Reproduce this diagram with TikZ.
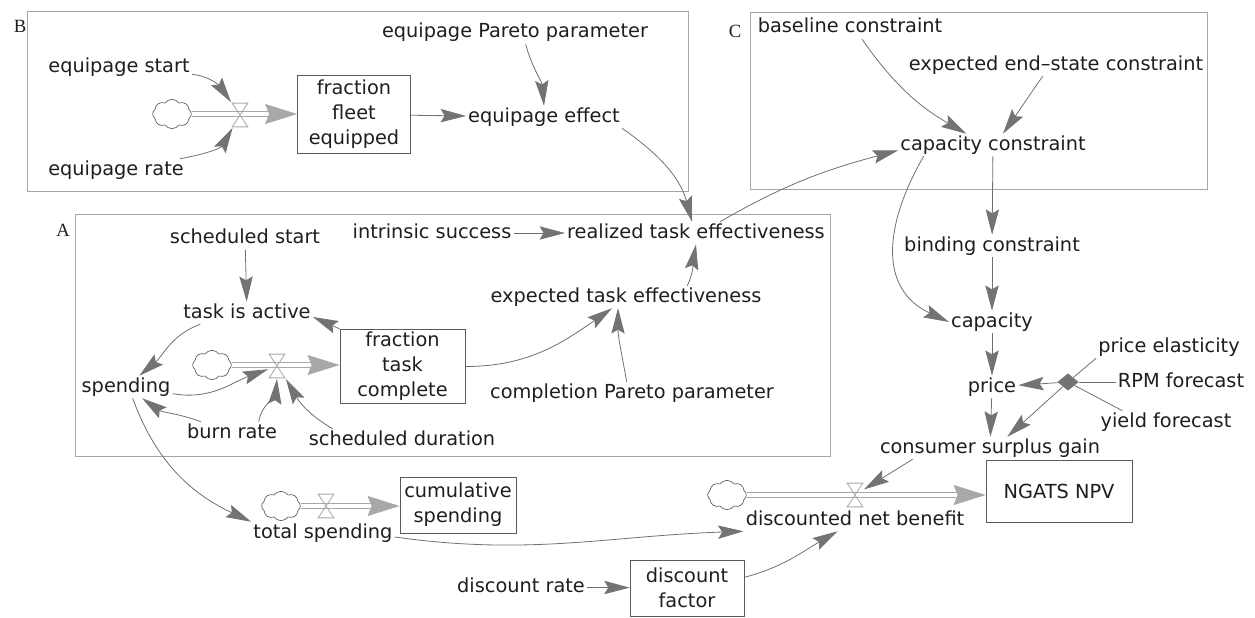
\documentclass[tikz,border=0pt]{standalone}
\usepackage{fontspec}
\setmainfont{DejaVu Sans}
\newfontfamily\groupfont{Liberation Serif}
\usetikzlibrary{arrows.meta, shapes.geometric, shapes.symbols}

\definecolor{linkgray}{HTML}{707070}
\definecolor{headgray}{HTML}{737373}
\definecolor{pipegray}{HTML}{A8A8A8}
\definecolor{boxgray}{HTML}{5A5A5A}
\definecolor{framegray}{HTML}{A6A6A6}
\definecolor{textgray}{HTML}{1E1E1E}

\newcommand{\varfont}{\fontsize{14.5}{18.75}\selectfont}

\begin{document}
\begin{tikzpicture}[
	x=0.75pt, y=0.75pt,
	var/.style={font=\varfont, text=textgray, inner sep=1.5pt, text height=10.5pt, text depth=3pt},
	level/.style={draw=boxgray, line width=0.6pt, font=\varfont, text=textgray, align=center, inner sep=2pt},
	frame/.style={draw=framegray, line width=0.7pt},
	grouplabel/.style={font=\groupfont\fontsize{14}{16}\selectfont, text=textgray},
	link/.style={draw=linkgray, line width=0.6pt, -{Stealth[length=19pt, width=10pt, inset=3pt, color=headgray]}},
	plainlink/.style={draw=linkgray, line width=0.6pt},
	pipe/.style={draw=pipegray, line width=0.6pt, double distance=2.6pt, -{Stealth[length=24pt, width=15pt, inset=3pt, color=pipegray]}},
	source/.style={cloud, cloud puffs=8, cloud puff arc=110, cloud ignores aspect, draw=boxgray, line width=0.5pt, inner sep=0pt, minimum width=29pt, minimum height=22pt},
	valve/.style={inner sep=0pt, minimum width=13pt, minimum height=19pt,
		path picture={\draw[pipegray, line width=0.6pt]
			([shift={(0.6pt,-0.6pt)}]path picture bounding box.north west) --
			([shift={(-0.6pt,-0.6pt)}]path picture bounding box.north east) --
			([shift={(0.6pt,0.6pt)}]path picture bounding box.south west) --
			([shift={(-0.6pt,0.6pt)}]path picture bounding box.south east) -- cycle;}},
	mult/.style={diamond, fill=headgray, inner sep=0pt, minimum width=16pt, minimum height=13pt}
	]
	
	\useasboundingbox (0,0) rectangle (1255,-617);
	
	% ======================
	% Rahmen der Teilmodelle
	% ======================
	\draw[frame] (27,-11) rectangle (688,-191);
	\node[grouplabel] (labB) at (20,-26) {B};
	\draw[frame] (750,-12) rectangle (1207,-189);
	\node[grouplabel] (labC) at (735,-31) {C};
	\draw[frame] (75,-214) rectangle (830,-456);
	\node[grouplabel] (labA) at (63,-230) {A};
	
	% ======================
	% B) Ausruestung
	% ======================
	\node[var] (eqStart) at (119,-68) {equipage start};
	\node[var] (eqRate) at (116,-170) {equipage rate};
	\node[source] (srcB) at (172,-114) {};
	\node[level, minimum width=84.75pt, minimum height=59pt] (fleet) at (354,-114.5) {fraction\\fleet\\equipped};
	\node[var] (eqEffect) at (544,-117) {equipage effect};
	\node[var] (eqPareto) at (515,-33) {equipage Pareto parameter};
	
	% ======================
	% C) Kapazitaet
	% ======================
	\node[var] (baseCon) at (850,-28) {baseline constraint};
	\node[var] (endCon) at (1056,-65) {expected end--state constraint};
	\node[var] (capCon) at (993,-145) {capacity constraint};
	\node[var] (bindCon) at (992,-246) {binding constraint};
	\node[var] (capacity) at (992,-322) {capacity};
	\node[var] (price) at (992,-387) {price};
	\node[mult] (lookup) at (1068,-382) {};
	\node[var] (priceEl) at (1169,-347) {price elasticity};
	\node[var] (rpm) at (1181,-382) {RPM forecast};
	\node[var] (yield) at (1166,-422) {yield forecast};
	\node[var] (csg) at (990,-448) {consumer surplus gain};
	\node[level, minimum width=109.5pt, minimum height=47pt] (npv) at (1059,-491.5) {NGATS NPV};
	\node[source] (srcD) at (727,-495) {};
	\node[var] (dnb) at (855,-520) {discounted net benefit};
	\node[level, minimum width=85.5pt, minimum height=42pt] (dfac) at (687,-588) {discount\\factor};
	\node[var] (drate) at (521,-587) {discount rate};
	
	% Ausgaben
	\node[var] (totSpend) at (323,-533) {total spending};
	\node[source] (srcT) at (281,-506) {};
	\node[level, minimum width=87pt, minimum height=42pt] (cumSpend) at (458,-505) {cumulative\\spending};
	
	% ======================
	% A) Aufgabe
	% ======================
	\node[var] (intr) at (432,-233) {intrinsic success};
	\node[var] (realEff) at (696,-233) {realized task effectiveness};
	\node[var] (expEff) at (626,-297) {expected task effectiveness};
	\node[var] (compPareto) at (632,-393) {completion Pareto parameter};
	\node[var] (schedStart) at (245,-238) {scheduled start};
	\node[var] (active) at (247,-313) {task is active};
	\node[level, minimum width=93.75pt, minimum height=56pt] (task) at (402.5,-366.5) {fraction\\task\\complete};
	\node[source] (srcA) at (212,-365) {};
	\node[var] (spending) at (126,-387) {spending};
	\node[var] (burn) at (232,-433) {burn rate};
	\node[var] (schedDur) at (402,-440) {scheduled duration};
	
	% Fluesse (Doppellinien)
	\draw[pipe] (srcB) -- (srcB -| fleet.west);
	\draw[pipe] (srcA) -- (srcA -| task.west);
	\draw[pipe] (srcT) -- (srcT -| cumSpend.west);
	\draw[pipe] (srcD) -- (srcD -| npv.west);
	
	% Ventile
	\node[valve] (vlvB) at (240,-115) {};
	\node[valve] (vlvA) at (277,-366) {};
	\node[valve] (vlvT) at (326,-506) {};
	\node[valve] (vlvD) at (855,-495) {};
	
	% ======================
	% Wirkungen
	% ======================
	\draw[link] (eqStart) to[out=-5, in=125] (vlvB);
	\draw[link] (eqRate) to[out=10, in=-120] (vlvB);
	\draw[link] (fleet) -- (eqEffect);
	\draw[link] ([xshift=8pt]eqPareto.south) to[out=-75, in=95] (eqEffect.north);
	\draw[link] (eqEffect.south east) to[out=-35, in=105] ([xshift=-3pt]realEff.north);
	\draw[link] ([xshift=18pt]realEff.north) to[out=30, in=195] ([yshift=-4pt]capCon.west);
	
	\draw[link] ([xshift=9pt]baseCon.south) to[out=-55, in=150] ([xshift=-20pt]capCon.north);
	\draw[link] ([xshift=-10pt]endCon.south) to[out=-125, in=55] ([xshift=7.5pt]capCon.north);
	\draw[link] (capCon) -- (bindCon);
	\draw[link] ([xshift=-52pt]capCon.south) to[out=-120, in=155, looseness=1.2] (capacity.west);
	\draw[link] (bindCon) -- (capacity);
	\draw[link] (capacity) -- (price);
	\draw[link] (lookup) -- (price);
	\draw[plainlink] (priceEl.south west) -- (lookup);
	\draw[plainlink] (rpm) -- (lookup);
	\draw[plainlink] ([xshift=18pt]yield.north west) -- (lookup);
	\draw[link] (lookup) -- ([xshift=13pt]csg.north);
	\draw[link] (price) -- (csg);
	\draw[link] ([xshift=-58pt]csg.south) -- (vlvD);
	
	\draw[link] ([yshift=-3pt]totSpend.east) to[out=-8, in=182] (dnb.south west);
	\draw[link] ([yshift=8pt]dfac.east) to[out=15, in=-150] ([xshift=-13pt]dnb.south);
	\draw[link] (drate) -- (dfac);
	
	\draw[link] (intr) -- (realEff);
	\draw[link] ([xshift=46pt]expEff.north) to[out=65, in=-100] (realEff.south);
	\draw[link] (task.east) to[out=0, in=-145] ([xshift=-10.5pt]expEff.south);
	\draw[link] ([xshift=-4pt]compPareto.north) to[out=100, in=-90] ([xshift=-6pt]expEff.south);
	\draw[link] (schedStart) -- (active);
	\draw[link] (task.north west) -- ([yshift=-3pt]active.east);
	\draw[link] ([xshift=-35pt]active.south) to[out=-160, in=40] ([xshift=10pt]spending.north);
	\draw[link] ([yshift=-5pt]spending.east) to[out=-10, in=-160] (vlvA);
	\draw[link] (burn) to[out=160, in=-35] (spending);
	\draw[link] ([xshift=20pt]burn.north) to[out=80, in=-95] (vlvA.south);
	\draw[link] ([xshift=-52pt]schedDur.north) to[out=150, in=-60] (vlvA.south east);
	\draw[link] ([xshift=5pt]spending.south) to[out=-70, in=155] (totSpend.north west);
	
\end{tikzpicture}
\end{document}
